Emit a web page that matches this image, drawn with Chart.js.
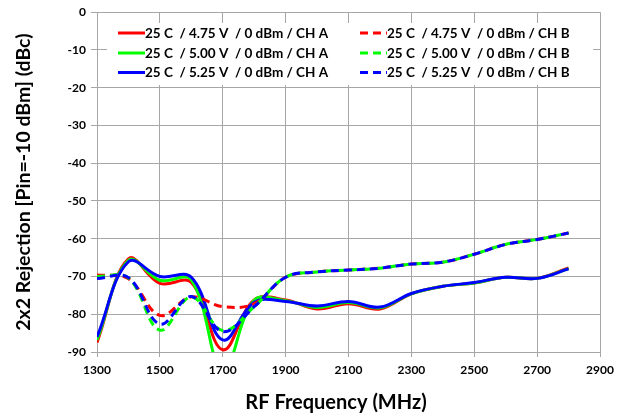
<!DOCTYPE html>
<html>
<head>
<meta charset="utf-8">
<script src="https://cdn.jsdelivr.net/npm/chart.js@4.4.1/dist/chart.umd.min.js"></script>
<style>
  html, body { margin: 0; padding: 0; background: #ffffff; }
  #wrap { width: 630px; height: 416px; }
</style>
</head>
<body>
<div id="wrap"><canvas id="c" width="630" height="416"></canvas></div>
<script>
// ---- data ----
const freqMHz = [1300, 1400, 1500, 1600, 1700, 1800, 1900, 2000, 2100, 2200, 2300, 2400, 2500, 2600, 2700, 2800];

const chA_475 = [-87.5, -65.3, -71.8, -71.6, -89.4, -76.2, -76.2, -78.6, -77.2, -78.6, -74.6, -72.6, -71.7, -70.2, -70.5, -67.7];
const chA_500 = [-86.8, -65.7, -71.0, -70.9, -95.0, -76.3, -76.4, -78.2, -76.9, -78.3, -74.6, -72.6, -71.7, -70.2, -70.5, -67.9];
const chA_525 = [-86.0, -66.1, -70.0, -70.2, -86.8, -76.8, -76.6, -77.8, -76.6, -78.1, -74.5, -72.6, -71.6, -70.2, -70.5, -68.0];

const chB_475 = [-69.6, -70.6, -80.3, -75.4, -78.0, -77.2, -70.2, -68.8, -68.3, -67.8, -66.7, -66.2, -64.1, -61.5, -60.2, -58.5];
const chB_500 = [-70.0, -70.4, -84.2, -75.4, -84.3, -78.0, -70.2, -68.8, -68.3, -67.8, -66.7, -66.2, -64.1, -61.5, -60.2, -58.5];
const chB_525 = [-70.5, -70.3, -82.6, -75.3, -84.6, -78.0, -70.2, -68.8, -68.3, -67.8, -66.7, -66.2, -64.1, -61.5, -60.2, -58.5];

const seriesLabels = [
  '25 C  / 4.75 V  / 0 dBm / CH A',
  '25 C  / 5.00 V  / 0 dBm / CH A',
  '25 C  / 5.25 V  / 0 dBm / CH A',
  '25 C  / 4.75 V  / 0 dBm / CH B',
  '25 C  / 5.00 V  / 0 dBm / CH B',
  '25 C  / 5.25 V  / 0 dBm / CH B'
];
const xTickValues = [1300, 1500, 1700, 1900, 2100, 2300, 2500, 2700, 2900];
const yTickValues = [0, -10, -20, -30, -40, -50, -60, -70, -80, -90];
const xAxisTitle = 'RF Frequency (MHz)';
const yAxisTitle = '2x2 Rejection [Pin=-10 dBm] (dBc)';

// ---- build ----
const RED = '#ff0000', GREEN = '#00ff00', BLUE = '#0000ff';
const FONT = 'Lato, "Open Sans", "DejaVu Sans", sans-serif';
const DASH = [8, 5];

function pts(vals) { return freqMHz.map((f, i) => ({ x: f, y: vals[i] })); }

function ds(label, vals, color, dashed, order) {
  return {
    label: label,
    data: pts(vals),
    borderColor: color,
    backgroundColor: color,
    borderWidth: 3,
    borderDash: dashed ? DASH : [],
    pointRadius: 0,
    showLine: true,
    tension: 0.38,
    fill: false,
    order: order
  };
}

const datasets = [
  ds(seriesLabels[0], chA_475, RED, false, 5),
  ds(seriesLabels[1], chA_500, GREEN, false, 4),
  ds(seriesLabels[2], chA_525, BLUE, false, 3),
  ds(seriesLabels[3], chB_475, RED, true, 2),
  ds(seriesLabels[4], chB_500, GREEN, true, 1),
  ds(seriesLabels[5], chB_525, BLUE, true, 0)
];

const legendPlugin = {
  id: 'inLegend',
  afterDatasetsDraw(chart) {
    const ctx = chart.ctx;
    ctx.save();
    ctx.fillStyle = '#ffffff';
    ctx.fillRect(107, 23, 486, 62);
    const colX = [118, 360];
    const rowY = [33, 53, 72.5];
    ctx.font = 'bold 13.5px ' + FONT;
    ctx.textBaseline = 'middle';
    ctx.textAlign = 'left';
    chart.data.datasets.forEach((d, i) => {
      const col = i < 3 ? 0 : 1;
      const row = i % 3;
      const x0 = colX[col], y = rowY[row];
      ctx.strokeStyle = d.borderColor;
      ctx.lineWidth = 3;
      ctx.setLineDash(d.borderDash && d.borderDash.length ? DASH : []);
      ctx.beginPath();
      ctx.moveTo(x0, y);
      ctx.lineTo(x0 + 27, y);
      ctx.stroke();
      ctx.setLineDash([]);
      ctx.fillStyle = '#000000';
      ctx.fillText(d.label, x0 + 27, y + 0.5);
    });
    // x-axis title (placed as in the reference, slightly left of plot centre)
    ctx.font = 'bold 20px ' + FONT;
    ctx.textAlign = 'center';
    ctx.textBaseline = 'middle';
    ctx.fillText(xAxisTitle, 336, 403);
    ctx.restore();
  }
};

const GRID = '#a6a6a6';

new Chart(document.getElementById('c'), {
  type: 'scatter',
  data: { datasets: datasets },
  options: {
    responsive: false,
    animation: false,
    devicePixelRatio: 1,
    layout: { padding: { top: 12, right: 30, left: 0, bottom: 0 } },
    elements: { line: { capBezierPoints: false } },
    plugins: {
      legend: { display: false },
      tooltip: { enabled: false }
    },
    scales: {
      x: {
        type: 'linear',
        min: 1300,
        max: 2900,
        afterBuildTicks: (s) => { s.ticks = xTickValues.map(v => ({ value: v })); },
        afterFit: (s) => { s.height = 64; },
        ticks: {
          callback: (v) => String(v),
          color: '#000000',
          font: { family: FONT, size: 12, weight: 'bold' },
          padding: 6,
          maxRotation: 0,
          autoSkip: false
        },
        grid: { color: GRID, lineWidth: 1, tickLength: 5, drawTicks: true },
        border: { color: GRID, width: 1 },
        title: { display: false }
      },
      y: {
        type: 'linear',
        min: -90,
        max: 0,
        afterBuildTicks: (s) => { s.ticks = yTickValues.map(v => ({ value: v })); },
        afterFit: (s) => { s.width = 97; },
        ticks: {
          callback: (v) => String(v),
          color: '#000000',
          font: { family: FONT, size: 12, weight: 'bold' },
          padding: 5,
          autoSkip: false
        },
        grid: { color: GRID, lineWidth: 1, tickLength: 6, drawTicks: true },
        border: { color: GRID, width: 1 },
        title: {
          display: true,
          text: yAxisTitle,
          color: '#000000',
          font: { family: FONT, size: 19.5, weight: 'bold' },
          padding: { top: 12, bottom: 0 }
        }
      }
    }
  },
  plugins: [legendPlugin]
});
</script>
</body>
</html>
